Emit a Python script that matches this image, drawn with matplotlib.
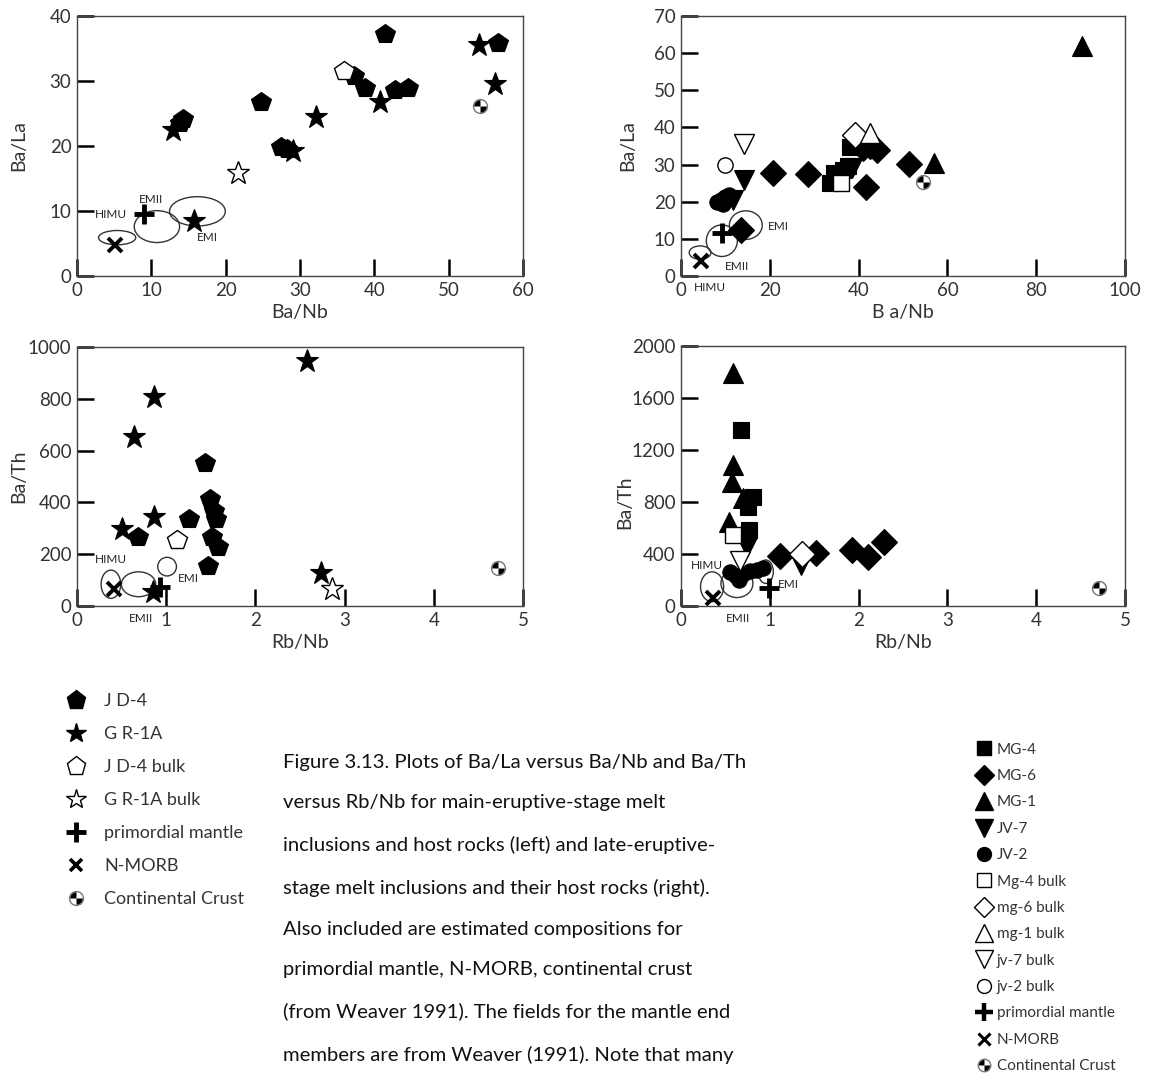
import numpy as np
import matplotlib
matplotlib.use("Agg")
import matplotlib.pyplot as plt
from matplotlib.patches import Ellipse
from matplotlib.lines import Line2D
from matplotlib.legend_handler import HandlerBase

plt.rcParams['font.family'] = ['Lato', 'DejaVu Sans']

TXT = '#333333'

# ---------------- main-eruptive-stage (left) ----------------
# Ba/La vs Ba/Nb
jd4_banb = [41.4, 56.6, 14.3, 13.9, 24.7, 27.5, 28.3, 37.3, 38.7, 42.8, 44.5]
jd4_bala = [37.3, 35.8, 24.2, 23.6, 26.8, 19.9, 19.6, 30.8, 29.0, 28.6, 28.9]
gr1a_banb = [12.9, 32.1, 40.7, 54.1, 56.3, 15.8, 29.0]
gr1a_bala = [22.4, 24.4, 26.8, 35.5, 29.6, 8.5, 19.3]
jd4b_banb, jd4b_bala = [35.9], [31.5]
gr1ab_banb, gr1ab_bala = [21.7], [15.8]

# Ba/Th vs Rb/Nb
jd4_rbnb = [1.44, 1.49, 1.54, 1.56, 1.51, 1.58, 1.47, 1.25, 0.68]
jd4_bath = [552, 412, 365, 336, 268, 229, 155, 335, 268]
gr1a_rbnb = [2.58, 0.86, 0.64, 0.51, 0.86, 2.74, 0.85]
gr1a_bath = [945, 807, 652, 296, 345, 126, 55]
jd4b_rbnb, jd4b_bath = [1.12], [255]
gr1ab_rbnb, gr1ab_bath = [2.86], [64]

# ---------------- late-eruptive-stage (right) ----------------
mg4_banb = [38.0, 33.5, 34.5, 36.5, 37.5]
mg4_bala = [34.6, 25.0, 27.8, 28.5, 29.5]
mg6_banb = [20.7, 28.6, 41.7, 51.4, 44.2, 40.9, 13.6, 42.5]
mg6_bala = [27.8, 27.5, 23.9, 30.2, 33.9, 34.4, 12.4, 35.0]
mg1_banb = [90.3, 57.0]
mg1_bala = [61.8, 30.3]
jv7_banb = [14.2, 11.7, 38.5]
jv7_bala = [25.9, 20.5, 29.0]
jv2_banb = [8.0, 9.0, 10.0, 10.8, 9.5]
jv2_bala = [19.8, 20.5, 21.2, 21.8, 19.5]
mg4b_banb, mg4b_bala = [36.1], [25.1]
mg6b_banb, mg6b_bala = [39.3], [38.0]
mg1b_banb, mg1b_bala = [42.6], [38.6]
jv7b_banb, jv7b_bala = [14.2], [35.5]
jv2b_banb, jv2b_bala = [10.0], [29.9]

mg4_rbnb = [0.68, 0.81, 0.76, 0.77]
mg4_bath = [1354, 841, 764, 585]
mg6_rbnb = [1.11, 1.52, 1.93, 2.11, 2.29]
mg6_bath = [385, 405, 431, 379, 495]
mg1_rbnb = [0.58, 0.58, 0.57, 0.70, 0.54]
mg1_bath = [1790, 1085, 956, 828, 648]
jv7_rbnb = [0.74, 1.35]
jv7_bath = [456, 315]
jv2_rbnb = [0.55, 0.62, 0.70, 0.78, 0.86, 0.92, 0.65]
jv2_bath = [260, 230, 250, 270, 280, 290, 200]
mg4b_rbnb, mg4b_bath = [0.59], [546]
mg6b_rbnb, mg6b_bath = [1.36], [400]
jv7b_rbnb, jv7b_bath = [0.66], [348]

# reference compositions (Weaver 1991)
pm_banb, pm_bala = 9.3, 10.5
nmorb_banb, nmorb_bala = 4.8, 4.4
cc_banb, cc_bala = 54.4, 25.8
pm_rbnb, pm_bath = 0.95, 78
nmorb_rbnb, nmorb_bath = 0.42, 66
cc_rbnb, cc_bath = 4.72, 145

# mantle end-member fields: (label, x, y, width, height)
fields_tl = [("HIMU", 5.4, 5.9, 5.0, 2.2), ("EMII", 10.75, 7.6, 6.1, 4.9), ("EMI", 16.2, 9.95, 7.5, 4.5)]
fields_tr = [("HIMU", 4.3, 6.3, 4.9, 3.6), ("EMII", 9.2, 9.5, 7.0, 8.5), ("EMI", 14.6, 13.7, 7.4, 7.7)]
fields_bl = [("HIMU", 0.38, 84, 0.22, 109), ("EMII", 0.69, 84, 0.385, 96), ("EMI", 1.01, 152, 0.21, 72)]
fields_br = [("HIMU", 0.35, 148, 0.26, 230), ("EMII", 0.63, 174, 0.36, 218), ("EMI", 0.955, 264, 0.17, 180)]


def quadrant(a0):
    t = np.linspace(a0, a0 + np.pi / 2, 12)
    return [(0, 0)] + list(zip(np.cos(t), np.sin(t))) + [(0, 0)]


Q1 = quadrant(np.pi / 2)       # upper left
Q2 = quadrant(3 * np.pi / 2)   # lower right


def crust(ax, x, y, ms=10):
    ax.plot(x, y, 'o', ms=ms, mfc='white', mec='#777777', mew=1, zorder=5)
    for q in (Q1, Q2):
        ax.plot(x, y, marker=q, ms=ms - 1, color='black', mew=0, ls='none', zorder=6)


def filled(ax, x, y, m, ms):
    ax.plot(x, y, m, ms=ms, color='black', mec='black', mew=0.8, ls='none', zorder=4)


def hollow(ax, x, y, m, ms):
    ax.plot(x, y, m, ms=ms, mfc='white', mec='black', mew=1.0, ls='none', zorder=4)


def refs(ax, pm, nm, cc):
    ax.plot(*pm, '+', ms=15, mew=3.5, color='black', zorder=6)
    ax.plot(*nm, 'x', ms=10, mew=2.8, color='black', zorder=6)
    crust(ax, *cc)


def fields(ax, flds):
    for name, x, y, w, h in flds:
        ax.add_patch(Ellipse((x, y), w, h, fill=False, ec='#333333', lw=1.0, zorder=3))


def style(ax, xlim, ylim, xt, yt, xl, yl, ylx, yly=0.5):
    ax.set_xlim(*xlim)
    ax.set_ylim(*ylim)
    ax.set_xticks(xt)
    ax.set_yticks(yt)
    ax.tick_params(direction='in', length=12, width=1.8, color='black',
                   labelsize=13.5, labelcolor=TXT, pad=4)
    for s in ax.spines.values():
        s.set_linewidth(1.0)
        s.set_color('#444444')
    ax.set_xlabel(xl, fontsize=14, color=TXT, labelpad=4)
    ax.set_ylabel(yl, fontsize=14, color=TXT)
    ax.yaxis.set_label_coords(ylx, yly)


def lab(ax, x, y, s):
    ax.text(x, y, s, fontsize=8.5, ha='center', va='center', color='#222222',
            clip_on=False, zorder=7)


fig = plt.figure(figsize=(11.55, 10.8), dpi=100)
W, H = 1155, 1080


def axes_px(l, t, r, b):
    return fig.add_axes([l / W, 1 - b / H, (r - l) / W, (b - t) / H])


ax1 = axes_px(77, 16, 523, 276)
ax2 = axes_px(681, 16, 1125, 276)
ax3 = axes_px(77, 347, 523, 606)
ax4 = axes_px(681, 346, 1125, 606)

# top left
fields(ax1, fields_tl)
filled(ax1, jd4_banb, jd4_bala, 'p', 15)
filled(ax1, gr1a_banb, gr1a_bala, '*', 17)
hollow(ax1, jd4b_banb, jd4b_bala, 'p', 15)
hollow(ax1, gr1ab_banb, gr1ab_bala, '*', 17)
refs(ax1, (pm_banb - 0.3, pm_bala - 0.9), (nmorb_banb + 0.3, nmorb_bala + 0.4), (cc_banb - 0.2, cc_bala + 0.3))
lab(ax1, 4.6, 9.5, "HIMU")
lab(ax1, 9.9, 11.8, "EMII")
lab(ax1, 17.6, 5.9, "EMI")
style(ax1, (0, 60), (0, 40), range(0, 61, 10), range(0, 41, 10), "Ba/Nb", "Ba/La", -0.112)

# top right
fields(ax2, fields_tr)
filled(ax2, mg6_banb, mg6_bala, 'D', 13)
filled(ax2, mg4_banb, mg4_bala, 's', 12)
filled(ax2, mg1_banb, mg1_bala, '^', 14)
filled(ax2, jv7_banb, jv7_bala, 'v', 14)
filled(ax2, jv2_banb, jv2_bala, 'o', 11)
hollow(ax2, mg4b_banb, mg4b_bala, 's', 12)
hollow(ax2, mg6b_banb, mg6b_bala, 'D', 13)
hollow(ax2, mg1b_banb, mg1b_bala, '^', 14)
hollow(ax2, jv7b_banb, jv7b_bala, 'v', 14)
hollow(ax2, jv2b_banb, jv2b_bala, 'o', 11)
refs(ax2, (pm_banb, pm_bala + 1.2), (nmorb_banb - 0.3, nmorb_bala - 0.3), (cc_banb, cc_bala - 0.4))
lab(ax2, 22.0, 13.3, "EMI")
lab(ax2, 12.5, 2.5, "EMII")
lab(ax2, 6.4, -3.1, "HIMU")
style(ax2, (0, 100), (0, 70), range(0, 101, 20), range(0, 71, 10), "B a/Nb", "Ba/La", -0.10)

# bottom left
fields(ax3, fields_bl)
filled(ax3, jd4_rbnb, jd4_bath, 'p', 15)
filled(ax3, gr1a_rbnb, gr1a_bath, '*', 17)
hollow(ax3, jd4b_rbnb, jd4b_bath, 'p', 15)
hollow(ax3, gr1ab_rbnb, gr1ab_bath, '*', 17)
refs(ax3, (pm_rbnb - 0.02, pm_bath - 3), (nmorb_rbnb, nmorb_bath), (cc_rbnb, cc_bath + 3))
lab(ax3, 0.38, 178, "HIMU")
lab(ax3, 1.25, 108, "EMI")
lab(ax3, 0.72, -48, "EMII")
style(ax3, (0, 5), (0, 1000), range(0, 6), range(0, 1001, 200), "Rb/Nb", "Ba/Th", -0.112)

# bottom right
fields(ax4, fields_br)
filled(ax4, mg1_rbnb, mg1_bath, '^', 14)
filled(ax4, mg4_rbnb, mg4_bath, 's', 12)
filled(ax4, mg6_rbnb, mg6_bath, 'D', 13)
filled(ax4, jv7_rbnb, jv7_bath, 'v', 14)
filled(ax4, jv2_rbnb, jv2_bath, 'o', 11)
hollow(ax4, mg4b_rbnb, mg4b_bath, 's', 12)
hollow(ax4, mg6b_rbnb, mg6b_bath, 'D', 13)
hollow(ax4, jv7b_rbnb, jv7b_bath, 'v', 14)
refs(ax4, (pm_rbnb + 0.04, pm_bath + 58), (nmorb_rbnb - 0.06, nmorb_bath - 7), (cc_rbnb - 0.01, cc_bath - 9))
lab(ax4, 0.29, 315, "HIMU")
lab(ax4, 1.21, 162, "EMI")
lab(ax4, 0.64, -95, "EMII")
style(ax4, (0, 5), (0, 2000), range(0, 6), range(0, 2001, 400), "Rb/Nb", "Ba/Th", -0.108, 0.40)


# legends
def h(m, ms, fill=True):
    if fill:
        return Line2D([], [], marker=m, ms=ms, color='black', ls='none')
    return Line2D([], [], marker=m, ms=ms, mfc='white', mec='black', mew=1, ls='none')


class CrustHandle:
    def __init__(self, ms):
        self.ms = ms


class HandlerCrust(HandlerBase):
    def create_artists(self, legend, orig, xd, yd, width, height, fontsize, trans):
        x, y = xd + width / 2, yd + height / 2
        ms = orig.ms
        a = Line2D([x], [y], marker='o', ms=ms, mfc='white', mec='#777777', mew=1, ls='none', transform=trans)
        b = Line2D([x], [y], marker=Q1, ms=ms - 1, color='black', mew=0, ls='none', transform=trans)
        c = Line2D([x], [y], marker=Q2, ms=ms - 1, color='black', mew=0, ls='none', transform=trans)
        return [a, b, c]


left_labels = ["J D-4", "G R-1A", "J D-4 bulk", "G R-1A bulk", "primordial mantle", "N-MORB", "Continental Crust"]
left_handles = [h('p', 14), h('*', 15), h('p', 14, False), h('*', 15, False),
                Line2D([], [], marker='+', ms=14, mew=3.5, color='black', ls='none'),
                Line2D([], [], marker='x', ms=9, mew=2.6, color='black', ls='none'), CrustHandle(10)]
fig.legend(left_handles, left_labels, loc='upper left', bbox_to_anchor=(49 / W, 1 - 677 / H),
           frameon=False, fontsize=13, labelspacing=0.94, handlelength=1.2, handletextpad=0.95,
           labelcolor=TXT, handler_map={CrustHandle: HandlerCrust()})

right_labels = ["MG-4", "MG-6", "MG-1", "JV-7", "JV-2", "Mg-4 bulk", "mg-6 bulk", "mg-1 bulk",
                "jv-7 bulk", "jv-2 bulk", "primordial mantle", "N-MORB", "Continental Crust"]
right_handles = [h('s', 10), h('D', 10), h('^', 13), h('v', 13), h('o', 10),
                 h('s', 10, False), h('D', 10, False), h('^', 13, False), h('v', 13, False), h('o', 10, False),
                 Line2D([], [], marker='+', ms=13, mew=3.2, color='black', ls='none'),
                 Line2D([], [], marker='x', ms=8, mew=2.2, color='black', ls='none'), CrustHandle(9)]
fig.legend(right_handles, right_labels, loc='upper left', bbox_to_anchor=(963 / W, 1 - 729 / H),
           frameon=False, fontsize=11, labelspacing=0.81, handlelength=1.0, handletextpad=0.3,
           labelcolor=TXT, handler_map={CrustHandle: HandlerCrust()})

caption = ("Figure 3.13. Plots of Ba/La versus Ba/Nb and Ba/Th\n"
           "versus Rb/Nb for main-eruptive-stage melt\n"
           "inclusions and host rocks (left) and late-eruptive-\n"
           "stage melt inclusions and their host rocks (right).\n"
           "Also included are estimated compositions for\n"
           "primordial mantle, N-MORB, continental crust\n"
           "(from Weaver 1991). The fields for the mantle end\n"
           "members are from Weaver (1991). Note that many")
fig.text(283 / W, 1 - 754 / H, caption, fontsize=14.6, linespacing=2.66, ha='left', va='top',
         color='#111111')

fig.savefig("out.png", dpi=100)
